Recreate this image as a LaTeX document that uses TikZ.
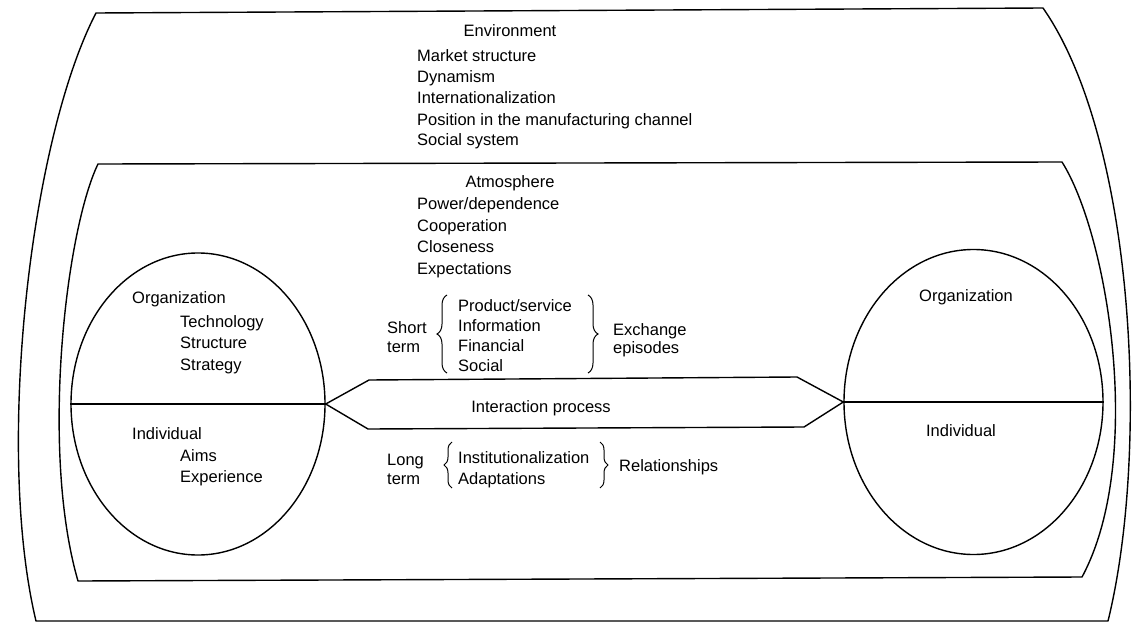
\documentclass[tikz,border=0pt]{standalone}
\usepackage{fontspec}
\setmainfont{Liberation Sans}
\usetikzlibrary{shapes.geometric,decorations.pathreplacing}
\begin{document}
\begin{tikzpicture}[x=1pt,y=-1pt,
  frame/.style={line width=1.4pt, line join=round},
  lbl/.style={inner sep=0pt, font=\fontsize{16.5}{20}\selectfont},
  item/.style={lbl, anchor=base west},
  head/.style={lbl, anchor=base},
  unit/.style={draw, line width=1.4pt, ellipse, inner sep=0pt},
  curly/.style={decorate, decoration={brace, amplitude=#1}, line width=1pt},
]
\useasboundingbox (0,0) rectangle (1134,623);
\fill[white] (0,0) rectangle (1134,623);

% outer frame: the environment
\draw[frame] (96,13) -- (1043,8)
  .. controls (1135,140) and (1150,450) .. (1108,621) -- (36,621)
  .. controls (-5,450) and (30,140) .. (96,13) -- cycle;

% inner frame: the atmosphere
\draw[frame] (98,164) -- (1062,162)
  .. controls (1108,235) and (1145,460) .. (1082,577) -- (78,581)
  .. controls (40,450) and (66,230) .. (98,164) -- cycle;

% environment factors
\node[head] (env) at (510,37) {Environment};
\node[item] (env1) at (417,62) {Market structure};
\node[item] (env2) at (417,83) {Dynamism};
\node[item] (env3) at (417,104) {Internationalization};
\node[item] (env4) at (417,125) {Position in the manufacturing channel};
\node[item] (env5) at (417,146) {Social system};

% atmosphere factors
\node[head] (atm) at (510,187) {Atmosphere};
\node[item] (atm1) at (417,209) {Power/dependence};
\node[item] (atm2) at (417,231) {Cooperation};
\node[item] (atm3) at (417,252) {Closeness};
\node[item] (atm4) at (417,274) {Expectations};

% the two parties
\node[unit, minimum width=254pt, minimum height=302pt] (L) at (198,404) {};
\node[unit, minimum width=259pt, minimum height=305pt] (R) at (973.5,402) {};
\draw[frame] (L.west) -- (L.east);
\draw[frame] (R.west) -- (R.east);

\node[item] (lorg) at (132,303) {Organization};
\node[item] (lorg1) at (180,327) {Technology};
\node[item] (lorg2) at (180,348) {Structure};
\node[item] (lorg3) at (180,370) {Strategy};
\node[item] (lind) at (132,439) {Individual};
\node[item] (lind1) at (180,461) {Aims};
\node[item] (lind2) at (180,482) {Experience};

\node[head] (rorg) at (966,301) {Organization};
\node[head] (rind) at (961,436) {Individual};

% interaction process band
\coordinate (hul) at (369,380);
\coordinate (hur) at (797,377);
\coordinate (hlr) at (804,427);
\coordinate (hll) at (368,429);
\draw[frame] (L.east) -- (hul) -- (hur) -- (R.west) -- (hlr) -- (hll) -- cycle;
\node[head] (ip) at (541,412) {Interaction process};

% short term: exchange episodes
\node[item] (st1) at (387,333) {Short};
\node[item] (st2) at (387,352) {term};
\draw[curly=10pt] (447,373) -- (447,295);
\node[item] (ex1) at (458,311) {Product/service};
\node[item] (ex2) at (458,331) {Information};
\node[item] (ex3) at (458,351) {Financial};
\node[item] (ex4) at (458,371) {Social};
\draw[curly=10pt] (588,295) -- (588,373);
\node[item] (ep1) at (613,335) {Exchange};
\node[item] (ep2) at (613,353) {episodes};

% long term: relationships
\node[item] (lt1) at (387,465) {Long};
\node[item] (lt2) at (387,484) {term};
\draw[curly=8pt] (452,488) -- (452,442);
\node[item] (rl1) at (458,463) {Institutionalization};
\node[item] (rl2) at (458,484) {Adaptations};
\draw[curly=8pt] (600,442) -- (600,488);
\node[item] (rel) at (619,471) {Relationships};
\end{tikzpicture}
\end{document}
